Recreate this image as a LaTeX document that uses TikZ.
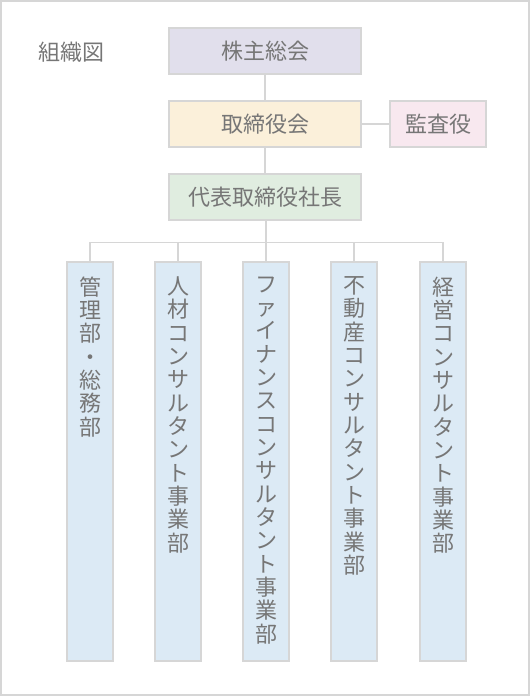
\documentclass[tikz,border=0pt]{standalone}
\usepackage{fontspec}
\setmainfont{Noto Sans CJK JP}
\usepackage{tikz}
\definecolor{TextGray}{HTML}{767676}
\definecolor{LineGray}{HTML}{D6D6D6}
\definecolor{Lavender}{HTML}{E1DFEC}
\definecolor{Cream}{HTML}{FBF0DA}
\definecolor{Blush}{HTML}{F8E8EF}
\definecolor{Mint}{HTML}{E0EDE0}
\definecolor{PaleBlue}{HTML}{DCEAF5}

\begin{document}
\begin{tikzpicture}[x=0.75pt, y=-0.75pt,
    every node/.style={font=\fontsize{16.5pt}{17.5pt}\selectfont, text=TextGray},
    orgbox/.style={draw=LineGray, line width=1pt, minimum width=144pt,
                   minimum height=34.5pt, inner sep=0pt},
    deptbox/.style={draw=LineGray, line width=1pt, fill=PaleBlue,
                    minimum width=34.5pt, minimum height=299.25pt, inner sep=0pt},
    link/.style={draw=LineGray, line width=1pt}]
    \useasboundingbox (0,0) rectangle (530,696);
    \draw[LineGray, line width=1.2pt] (1,1) rectangle (529,695);

    \node (title) at (71,52) {組織図};

    \node[orgbox, fill=Lavender] (share) at (265,51) {株主総会};
    \node[orgbox, fill=Cream] (board) at (265,124) {取締役会};
    \node[orgbox, fill=Blush, minimum width=72pt] (audit) at (438,124) {監査役};
    \node[orgbox, fill=Mint] (ceo) at (265,197) {代表取締役社長};

    \draw[link] (share) -- (board);
    \draw[link] (board) -- (audit);
    \draw[link] (board) -- (ceo);
    \coordinate (bus) at (266,242.5);
    \draw[link] (ceo.south -| bus) -- (bus);

    \foreach \i/\x/\name in {1/90/{管\\理\\部\\・\\総\\務\\部},
        2/178/{人\\材\\コ\\ン\\サ\\ル\\タ\\ン\\ト\\事\\業\\部},
        3/266/{フ\\ァ\\イ\\ナ\\ン\\ス\\コ\\ン\\サ\\ル\\タ\\ン\\ト\\事\\業\\部},
        4/354/{不\\動\\産\\コ\\ン\\サ\\ル\\タ\\ン\\ト\\事\\業\\部},
        5/443/{経\\営\\コ\\ン\\サ\\ル\\タ\\ン\\ト\\事\\業\\部}} {
      \node[deptbox] (dept\i) at (\x,461.5) {};
      \node[anchor=north, align=center, inner sep=0pt] (label\i)
        at ([yshift=-11.25pt]dept\i.north) {\name};
      \draw[link] (bus) -| (dept\i.north);
    }
\end{tikzpicture}
\end{document}
